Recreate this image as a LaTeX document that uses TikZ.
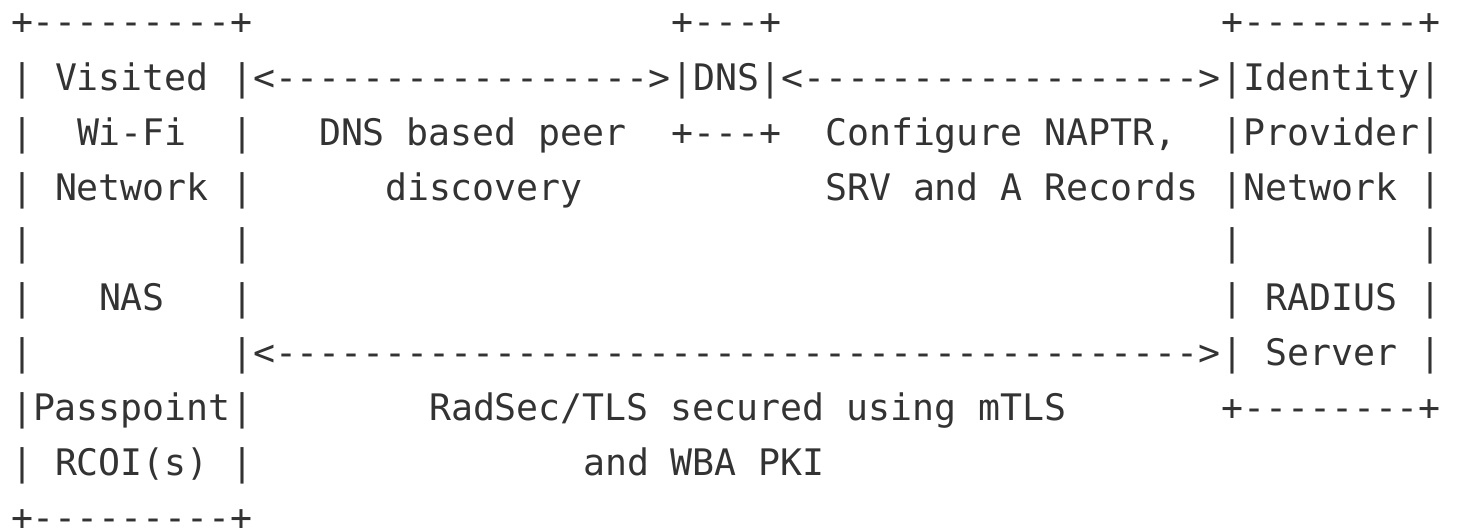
\documentclass[tikz,border=0pt]{standalone}
\usepackage{fontspec}
\setmonofont{DejaVu Sans Mono}
\definecolor{inkgray}{HTML}{333333}
\newcommand\dashrun[1]{\foreach \i in {1,...,#1}{-}}
\tikzset{
    ascii/.style={font=\ttfamily\fontsize{18.27pt}{27.55pt}\selectfont,
        text=inkgray, anchor=base west, inner sep=0pt, outer sep=0pt}
}
\begin{document}
\begin{tikzpicture}
\useasboundingbox (0,0) rectangle (732.5pt,-264pt);
\begin{scope}[shift={(5.5pt,-17.5pt)}, x=11pt, y=-27.55pt, every node/.style={ascii}]
% visited wi-fi network box
\node (visitedTop) at (0,0) {+\dashrun{9}+};
\foreach \r in {1,...,8} {
    \node (visitedL\r) at (0,\r) {|};
    \node (visitedR\r) at (10,\r) {|};
}
\node (visitedBot) at (0,9) {+\dashrun{9}+};
\node (visited) at (2,1) {Visited};
\node (wifi) at (3,2) {Wi-Fi};
\node (network) at (2,3) {Network};
\node (nas) at (4,5) {NAS};
\node (passpoint) at (1,7) {Passpoint};
\node (rcoi) at (2,8) {RCOI(s)};
% dns box
\node (dnsTop) at (30,0) {+\dashrun{3}+};
\node (dns) at (30,1) {|DNS|};
\node (dnsBot) at (30,2) {+\dashrun{3}+};
% identity provider network box
\node (idpTop) at (55,0) {+\dashrun{8}+};
\foreach \r in {1,...,6} {
    \node (idpL\r) at (55,\r) {|};
    \node (idpR\r) at (64,\r) {|};
}
\node (idpBot) at (55,7) {+\dashrun{8}+};
\node (identity) at (56,1) {Identity};
\node (provider) at (56,2) {Provider};
\node (idpnet) at (56,3) {Network};
\node (radius) at (57,5) {RADIUS};
\node (server) at (57,6) {Server};
% arrows
\node (peerArrow) at (11,1) {<\dashrun{17}>};
\node (recArrow) at (35,1) {<\dashrun{18}>};
\node (radsecArrow) at (11,6) {<\dashrun{42}>};
% labels
\node (peerA) at (14,2) {DNS based peer};
\node (peerB) at (17,3) {discovery};
\node (recA) at (37,2) {Configure NAPTR,};
\node (recB) at (37,3) {SRV and A Records};
\node (radsecA) at (19,7) {RadSec/TLS secured using mTLS};
\node (radsecB) at (26,8) {and WBA PKI};
\end{scope}
\end{tikzpicture}
\end{document}
